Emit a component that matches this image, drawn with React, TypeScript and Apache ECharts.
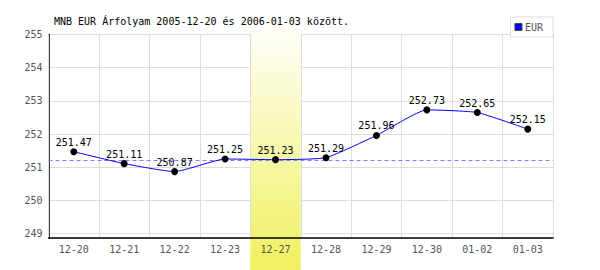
import React, { useEffect, useRef } from "react";
import * as echarts from "echarts";

const categories = ["12-20", "12-21", "12-22", "12-23", "12-27", "12-28", "12-29", "12-30", "01-02", "01-03"];
const eurValues = [251.47, 251.11, 250.87, 251.25, 251.23, 251.29, 251.96, 252.73, 252.65, 252.15];
const highlightCategory = "12-27";
const highlightValue = 251.23;
const titleText = "MNB EUR Árfolyam 2005-12-20 és 2006-01-03 között.";
const seriesName = "EUR";

const MONO = "'DejaVu Sans Mono', 'Liberation Mono', monospace";

export default function App() {
  const ref = useRef<HTMLDivElement>(null);
  useEffect(() => {
    document.body.style.margin = "0";
    const chart = echarts.init(ref.current!, null, { renderer: "svg" });
    const option: any = {
      animation: false,
      backgroundColor: "#ffffff",
      title: {
        text: titleText,
        left: 48,
        top: 16,
        padding: [0, 6],
        textStyle: { fontFamily: MONO, fontSize: 10, fontWeight: "normal", color: "#000" },
      },
      legend: {
        right: 47,
        top: 17,
        orient: "horizontal",
        backgroundColor: "#ffffff",
        borderColor: "#dddddd",
        borderWidth: 1,
        padding: [5, 10, 5, 4],
        itemWidth: 7,
        itemHeight: 7,
        itemGap: 3,
        textStyle: { fontFamily: MONO, fontSize: 10, color: "#555", padding: [0, 0, 0, -2] },
        data: [
          {
            name: seriesName,
            icon: "rect",
            itemStyle: { color: "#0000ff", borderColor: "#444", borderWidth: 1 },
          },
        ],
        z: 10,
      },
      grid: { left: 48.5, right: 47, top: 34.5, bottom: 32 },
      xAxis: {
        type: "category",
        data: categories,
        boundaryGap: true,
        z: 2,
        axisLine: { show: true, lineStyle: { color: "#000", width: 1.5 } },
        axisTick: { show: false },
        axisLabel: { fontFamily: MONO, fontSize: 10, color: "#555", margin: 6 },
        splitLine: { show: true, lineStyle: { color: "#dddddd", width: 1 } },
      },
      yAxis: {
        type: "value",
        min: 248.87,
        max: 255,
        minInterval: 1,
        maxInterval: 1,
        z: 0,
        axisLine: { show: true, lineStyle: { color: "#000", width: 1.5 } },
        axisTick: { show: false },
        axisLabel: {
          fontFamily: MONO,
          fontSize: 10,
          color: "#555",
          margin: 6,
          formatter: (v: number) => (Math.abs(v - Math.round(v)) < 1e-6 ? String(Math.round(v)) : ""),
        },
        splitLine: { show: true, lineStyle: { color: "#dddddd", width: 1 } },
      },
      series: [
        {
          name: seriesName,
          type: "line",
          data: eurValues,
          z: 3,
          smooth: 0.15,
          symbol: "circle",
          symbolSize: 7,
          itemStyle: { color: "#000" },
          lineStyle: { color: "#0000ff", width: 1 },
          label: {
            show: true,
            position: "top",
            distance: 1,
            fontFamily: MONO,
            fontSize: 10,
            color: "#000",
            formatter: (p: any) => Number(p.value).toFixed(2),
          },
        },
      ],
    };
    chart.setOption(option);
    const idx = categories.indexOf(highlightCategory);
    const cx = chart.convertToPixel({ xAxisIndex: 0 }, idx) as number;
    const cxNext = chart.convertToPixel({ xAxisIndex: 0 }, idx + 1) as number;
    const bw = cxNext - cx;
    const x0 = chart.convertToPixel({ xAxisIndex: 0 }, 0) as number - bw / 2;
    const x1 = chart.convertToPixel({ xAxisIndex: 0 }, categories.length - 1) as number + bw / 2;
    const yRef = Math.round(chart.convertToPixel({ yAxisIndex: 0 }, highlightValue) as number) + 0.5;
    const h = chart.getHeight();
    const bandTop = 28;
    chart.setOption({
      graphic: [
        {
          type: "rect",
          z: 1,
          silent: true,
          shape: { x: cx - bw / 2, y: bandTop, width: bw, height: h - bandTop },
          style: {
            fill: new echarts.graphic.LinearGradient(0, 0, 0, 1, [
              { offset: 0, color: "#fffff8" },
              { offset: 1, color: "#f0f060" },
            ]),
          },
        },
        {
          type: "line",
          z: 2,
          silent: true,
          shape: { x1: x0, y1: yRef, x2: x1, y2: yRef },
          style: { stroke: "#8080ff", lineWidth: 1, lineDash: [4, 3] },
        },
      ],
    });
    return () => chart.dispose();
  }, []);
  return <div ref={ref} style={{ width: 600, height: 270 }} />;
}
